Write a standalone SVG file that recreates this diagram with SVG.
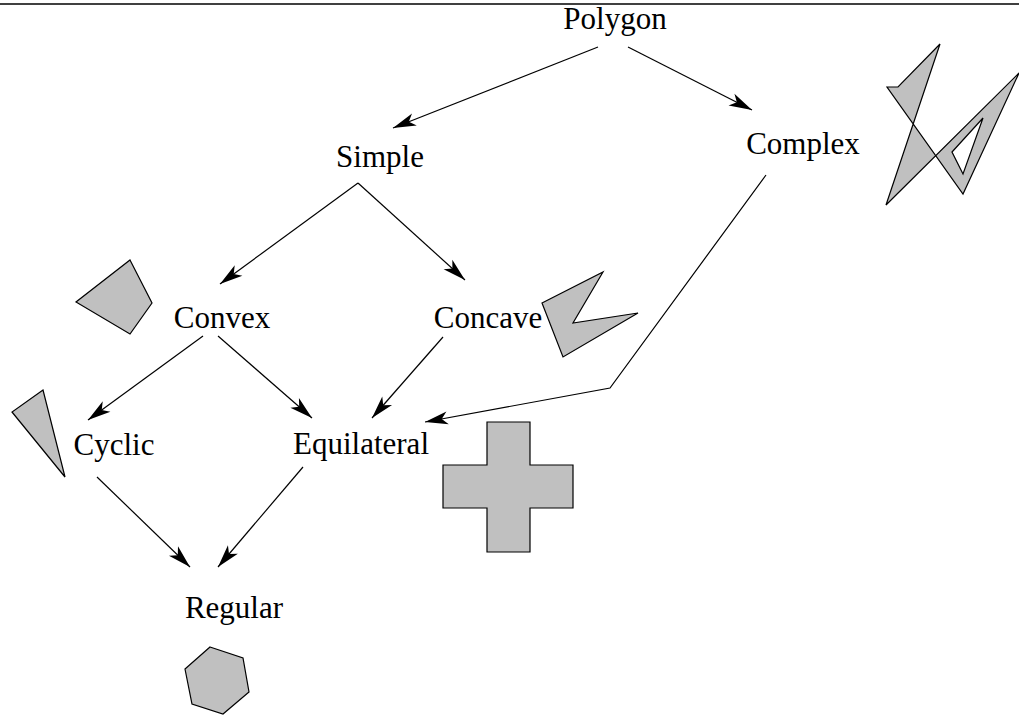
<svg xmlns="http://www.w3.org/2000/svg" width="1019" height="715" viewBox="0 0 1019 715">
<style>
.lbl{font-family:"Liberation Serif","DejaVu Serif",serif;font-size:31px;fill:#000;text-anchor:middle}
.shape{fill:#c0c0c0;stroke:#000;stroke-width:1.2;stroke-linejoin:miter}
.edge{fill:none;stroke:#000;stroke-width:1.2}
</style>
<defs>
<marker id="ah" markerUnits="userSpaceOnUse" markerWidth="30" markerHeight="20" viewBox="-24 -10 26 20" refX="0" refY="0" orient="auto">
<path d="M0,0 L-23,-6.5 L-17,0 L-23,6.5 Z" fill="#000"/>
</marker>
</defs>
<rect width="1019" height="715" fill="#fff"/>
<line x1="0" y1="4" x2="1019" y2="4" stroke="#000" stroke-width="1.5"/>
<g id="connectors">
<line class="edge" x1="598" y1="47" x2="393" y2="128" marker-end="url(#ah)"/>
<line class="edge" x1="628" y1="47" x2="752" y2="110" marker-end="url(#ah)"/>
<line class="edge" x1="358" y1="183" x2="220" y2="284" marker-end="url(#ah)"/>
<line class="edge" x1="358" y1="183" x2="465" y2="280" marker-end="url(#ah)"/>
<line class="edge" x1="203" y1="336" x2="88" y2="420" marker-end="url(#ah)"/>
<line class="edge" x1="218" y1="336" x2="312" y2="418" marker-end="url(#ah)"/>
<line class="edge" x1="443" y1="337" x2="372" y2="418" marker-end="url(#ah)"/>
<polyline class="edge" points="766,175 610,388 425,422" marker-end="url(#ah)"/>
<line class="edge" x1="97" y1="477" x2="190" y2="567" marker-end="url(#ah)"/>
<line class="edge" x1="303" y1="467" x2="218" y2="567" marker-end="url(#ah)"/>
</g>
<g id="polygon"><text class="lbl" x="615" y="29">Polygon</text></g>
<g id="simple"><text class="lbl" x="380" y="167">Simple</text></g>
<g id="complex"><text class="lbl" x="803" y="154">Complex</text>
<path class="shape" fill-rule="evenodd" d="M887,87 L898,87 L940,44 L886,205 L1019,73 L963,194 Z M952,152 L983,118 L963,174 Z"/></g>
<g id="convex"><text class="lbl" x="222" y="328">Convex</text>
<polygon class="shape" points="130,260 152,303 130,334 76,302"/></g>
<g id="concave"><text class="lbl" x="488" y="328">Concave</text>
<polygon class="shape" points="542,303 603,272 573,323 638,313 563,357"/></g>
<g id="cyclic"><text class="lbl" x="114" y="455">Cyclic</text>
<polygon class="shape" points="43,390 65,477 12,412"/></g>
<g id="equilateral"><text class="lbl" x="361" y="454">Equilateral</text>
<polygon class="shape" points="487,422 530,422 530,465 573,465 573,508 530,508 530,552 487,552 487,508 443,508 443,465 487,465"/></g>
<g id="regular"><text class="lbl" x="234" y="618">Regular</text>
<polygon class="shape" points="210,647 243,658 249,692 223,714 192,704 185,669"/></g>
</svg>
